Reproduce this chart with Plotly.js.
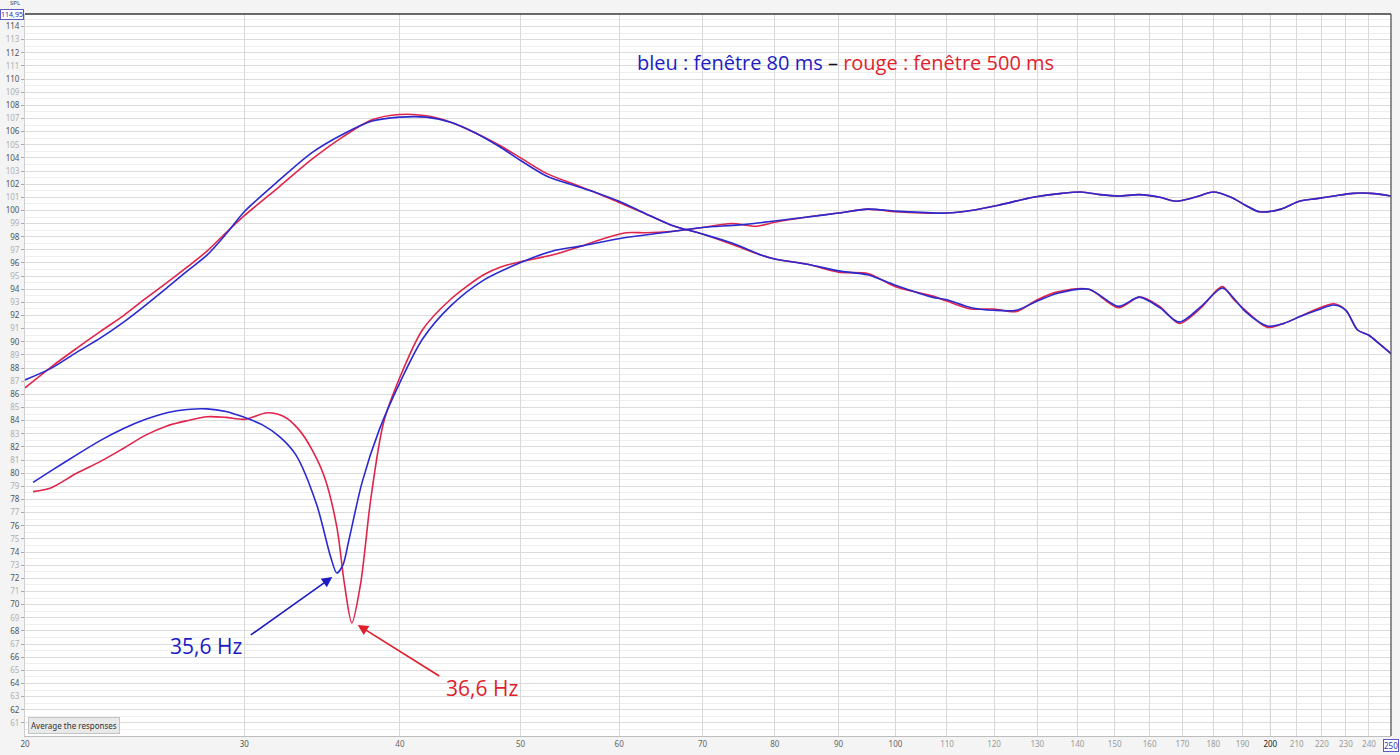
<!DOCTYPE html>
<html>
<head>
<meta charset="utf-8">
<script src="https://cdn.plot.ly/plotly-3.0.1.min.js"></script>
<style>
  html, body { margin: 0; padding: 0; background: #f4f4f4; }
  #plot { width: 1400px; height: 755px; }
</style>
</head>
<body>
<div id="plot"></div>
<script>
// Upper curves (peak near 40 Hz), same frequency points for both windows
var freqA = [20, 21, 22, 23, 24, 25, 26, 27, 28, 29, 30, 32, 34, 36, 38, 40, 42, 44, 46, 48, 50,
  52.5, 55, 57.5, 60, 63, 66, 70, 74, 78, 80, 85, 90, 95, 100, 107, 110, 115, 120, 125, 130, 135,
  143, 151, 157, 163, 169, 176, 183, 187, 191, 199, 205, 211, 218, 225, 230, 235, 240, 245, 250];
var blueA = [87.1, 88.0, 89.2, 90.3, 91.5, 92.8, 94.1, 95.4, 96.6, 98.2, 99.9, 102.3, 104.4, 105.8, 106.8, 107.1, 107.1, 106.7, 105.9, 104.9, 103.8,
  102.6, 101.95, 101.35, 100.7, 99.75, 98.9, 98.2, 97.5, 96.6, 96.3, 95.9, 95.4, 95.1, 94.3, 93.4, 93.2, 92.6, 92.4, 92.4, 93.1, 93.7,
  94.0, 92.7, 93.4, 92.6, 91.5, 92.7, 94.1, 93.3, 92.3, 91.2, 91.4, 91.9, 92.4, 92.8, 92.4, 90.9, 90.5, 89.8, 89.1];
var redA = [86.5, 88.1, 89.5, 90.8, 92.0, 93.3, 94.5, 95.7, 96.9, 98.3, 99.6, 101.8, 103.9, 105.6, 106.9, 107.3, 107.2, 106.7, 105.9, 105.0, 104.0,
  102.8, 102.05, 101.35, 100.6, 99.75, 98.9, 98.2, 97.4, 96.6, 96.3, 95.9, 95.3, 95.2, 94.2, 93.5, 93.1, 92.5, 92.5, 92.3, 93.2, 93.8,
  94.0, 92.6, 93.4, 92.7, 91.4, 92.6, 94.2, 93.2, 92.4, 91.1, 91.4, 91.9, 92.5, 92.9, 92.4, 90.9, 90.5, 89.8, 89.1];

// Lower curves (notch), 80 ms window
var freqBlueB = [20.3, 21, 22, 23, 24, 25, 26, 27, 28, 29, 30, 31, 32, 33, 34.3, 35.2, 35.6, 36.0, 36.4, 37.3, 38.5,
  40, 41.7, 43.9, 46.7, 49.9, 53, 56, 60.4, 65, 70, 75, 80, 85, 90, 95, 100, 105, 110, 115, 121, 129, 136, 141, 146, 151,
  157, 163, 168, 174, 180, 186, 191, 196, 204, 211, 218, 225, 233, 241, 250];
var blueB = [79.3, 80.2, 81.4, 82.5, 83.4, 84.1, 84.6, 84.85, 84.9, 84.7, 84.25, 83.7, 82.8, 81.4, 77.6, 73.6, 72.4, 73.0, 74.9, 79.3, 83.3,
  86.9, 90.2, 92.7, 94.7, 96.0, 96.9, 97.3, 97.9, 98.3, 98.7, 98.9, 99.2, 99.5, 99.8, 100.1, 99.95, 99.85, 99.8, 100.0, 100.4, 101.0, 101.3, 101.4, 101.2, 101.1,
  101.2, 101.0, 100.7, 101.0, 101.4, 101.0, 100.4, 99.9, 100.1, 100.7, 100.9, 101.1, 101.3, 101.3, 101.1];

// Lower curves (notch), 500 ms window
var freqRedB = [20.3, 21, 22, 23, 24, 25, 26, 27, 28, 29, 30, 31.3, 32.3, 33.2, 34.0, 34.8, 35.6, 36.1, 36.6, 37.2, 37.9, 38.8,
  40, 41.7, 43.9, 46.7, 48.2, 50, 53, 56, 58.5, 60.8, 63, 66, 70, 73.8, 77.4, 80, 85, 90, 95, 100, 105, 110, 115, 121, 129, 136, 141, 146, 151,
  157, 163, 168, 174, 180, 186, 191, 196, 204, 211, 218, 225, 233, 241, 250];
var redB = [78.6, 78.9, 80.0, 80.9, 81.9, 82.9, 83.6, 84.0, 84.3, 84.25, 84.1, 84.6, 84.3, 83.3, 81.8, 79.7, 75.9, 71.6, 68.6, 71.6, 78.0, 83.8,
  87.3, 90.9, 93.2, 95.1, 95.7, 96.1, 96.6, 97.3, 97.9, 98.3, 98.3, 98.4, 98.7, 99.0, 98.8, 99.1, 99.5, 99.8, 100.1, 99.9, 99.8, 99.8, 100.0, 100.4, 101.0, 101.3, 101.4, 101.2, 101.1,
  101.2, 101.0, 100.7, 101.0, 101.4, 101.0, 100.4, 99.9, 100.1, 100.7, 100.9, 101.1, 101.3, 101.3, 101.1];

// Axis ticks
var xTicks = [20, 30, 40, 50, 60, 70, 80, 90, 100, 110, 120, 130, 140, 150, 160, 170, 180, 190, 200, 210, 220, 230, 240, 250];
var yTicks = [];
for (var v = 61; v <= 114; v++) yTicks.push(v);

var BLUE = '#2a2ad0';
var RED = '#e0244a';

function xLabel(f) {
  var c = '#666';
  if (f <= 30) c = '#555';
  if (f > 100) c = '#9a9a9a';
  if (f == 200) c = '#222';
  if (f == 250) return '';
  return '<span style="color:' + c + '">' + f + '</span>';
}
function yLabel(d) {
  var c = (d % 2 == 0) ? '#555' : '#b0b0b0';
  return '<span style="color:' + c + '">' + d + '</span>';
}

var line = {shape: 'spline', smoothing: 0.8, width: 1.6};

var data = [
  {x: freqA, y: redA, mode: 'lines', line: Object.assign({color: RED}, line), hoverinfo: 'skip'},
  {x: freqRedB, y: redB, mode: 'lines', line: Object.assign({color: RED}, line), hoverinfo: 'skip'},
  {x: freqA, y: blueA, mode: 'lines', line: Object.assign({color: BLUE}, line), hoverinfo: 'skip'},
  {x: freqBlueB, y: blueB, mode: 'lines', line: Object.assign({color: BLUE}, line), hoverinfo: 'skip'}
];

var tickFont = {family: 'Noto Sans, sans-serif', size: 8, color: '#666'};
var noteFont = {family: 'Open Sans, Noto Sans, sans-serif', size: 20};
var hzFont = {family: 'Open Sans, Noto Sans, sans-serif', size: 21};

var layout = {
  width: 1400,
  height: 755,
  margin: {l: 25, r: 9, t: 14, b: 19},
  paper_bgcolor: '#f4f4f4',
  plot_bgcolor: '#ffffff',
  showlegend: false,
  xaxis: {
    type: 'log',
    range: [Math.log10(20), Math.log10(250)],
    tickmode: 'array',
    tickvals: xTicks,
    ticktext: xTicks.map(xLabel),
    tickfont: tickFont,
    ticks: '',
    gridcolor: '#d9d9d9',
    gridwidth: 1,
    showline: true,
    linecolor: '#bdbdbd',
    zeroline: false,
    automargin: false,
    fixedrange: true
  },
  yaxis: {
    range: [60, 114.95],
    tickmode: 'array',
    tickvals: yTicks,
    ticktext: yTicks.map(yLabel),
    tickfont: tickFont,
    ticks: 'outside',
    ticklen: 3,
    tickcolor: '#aaa',
    gridcolor: '#dcdcdc',
    minor: {tickmode: 'linear', tick0: 60, dtick: 0.5, showgrid: true, gridcolor: '#efefef', ticks: ''},
    showline: true,
    linecolor: '#cfcfcf',
    zeroline: false,
    automargin: false,
    fixedrange: true
  },
  shapes: [
    {type: 'line', xref: 'x', yref: 'paper', x0: 100, x1: 100, y0: 0, y1: 1, line: {color: '#c4c4c4', width: 1}, layer: 'below'},
    {type: 'line', xref: 'x', yref: 'paper', x0: 200, x1: 200, y0: 0, y1: 1, line: {color: '#c4c4c4', width: 1}, layer: 'below'},
    {type: 'line', xref: 'paper', yref: 'paper', x0: 0, x1: 1, y0: 1, y1: 1, line: {color: '#3a3a3a', width: 1.3}},
    {type: 'line', xref: 'paper', yref: 'paper', x0: 1, x1: 1, y0: 0, y1: 1, line: {color: '#555', width: 1.3}}
  ],
  annotations: [
    {xref: 'paper', yref: 'paper', x: 0.601, y: 0.9335, xanchor: 'center', yanchor: 'middle', showarrow: false,
     text: '<span style="color:#1c1cc4">bleu : fenêtre 80 ms</span> – <span style="color:#e01e2c">rouge : fenêtre 500 ms</span>',
     font: Object.assign({color: '#111'}, noteFont)},
    {xref: 'paper', yref: 'paper', x: 0.1325, y: 0.1247, xanchor: 'center', yanchor: 'middle', showarrow: false,
     text: '35,6 Hz', font: Object.assign({color: '#1c1cc4'}, hzFont)},
    {xref: 'paper', yref: 'paper', x: 0.3346, y: 0.0665, xanchor: 'center', yanchor: 'middle', showarrow: false,
     text: '36,6 Hz', font: Object.assign({color: '#e01e2c'}, hzFont)},
    {xref: 'x', yref: 'y', x: Math.log10(35.3), y: 72.1, text: '', showarrow: true,
     axref: 'pixel', ayref: 'pixel', ax: -83, ay: 59,
     arrowhead: 2, arrowsize: 1.3, arrowwidth: 1.6, arrowcolor: '#1c1cc4', standoff: 0},
    {xref: 'x', yref: 'y', x: Math.log10(37.0), y: 68.45, text: '', showarrow: true,
     axref: 'pixel', ayref: 'pixel', ax: 83, ay: 52,
     arrowhead: 2, arrowsize: 1.3, arrowwidth: 1.6, arrowcolor: '#e01e2c', standoff: 0},
    {xref: 'paper', yref: 'paper', x: 0.002, y: 0.003, xanchor: 'left', yanchor: 'bottom', showarrow: false,
     text: 'Average the responses', font: {family: 'Noto Sans, sans-serif', size: 8, color: '#333'},
     bgcolor: '#e9e9e9', bordercolor: '#c4c4c4', borderwidth: 1, borderpad: 2},
    {xref: 'paper', yref: 'paper', x: -0.0008, y: 1, xanchor: 'right', yanchor: 'middle', showarrow: false,
     text: '114,95', font: {family: 'Noto Sans, sans-serif', size: 7, color: '#2a2aa0'},
     bgcolor: '#ffffff', bordercolor: '#5a5ac0', borderwidth: 1, borderpad: 0},
    {xref: 'paper', yref: 'paper', x: -0.0075, y: 1, xanchor: 'center', yanchor: 'bottom', yshift: 5, showarrow: false,
     text: 'SPL', font: {family: 'Noto Sans, sans-serif', size: 6, color: '#444'}},
    {xref: 'paper', yref: 'paper', x: 1, y: 0, xanchor: 'center', yanchor: 'top', yshift: -3, showarrow: false,
     text: '250', font: {family: 'Noto Sans, sans-serif', size: 8, color: '#3030b0'},
     bgcolor: '#ffffff', bordercolor: '#5a5ac0', borderwidth: 1, borderpad: 0}
  ]
};

Plotly.newPlot('plot', data, layout, {staticPlot: true, displayModeBar: false});
</script>
</body>
</html>
